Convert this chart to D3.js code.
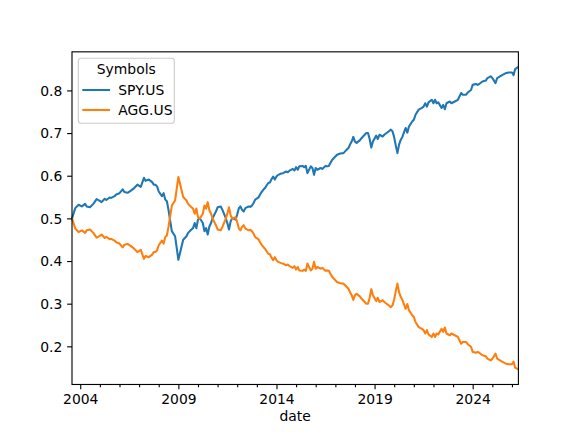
<!DOCTYPE html>
<html>
<head>
<meta charset="utf-8">
<script src="https://cdn.jsdelivr.net/npm/d3@7"></script>
<style>
  body { margin: 0; background: #fff; }
  svg text { font-family: "DejaVu Sans", sans-serif; }
</style>
</head>
<body>
<svg></svg>
<script>
var width = 576;
var height = 432;

// monthly weights
var dates = ["2003-08","2003-10","2003-12","2004-02","2004-04","2004-05","2004-07","2004-09","2004-11",
  "2005-01","2005-02","2005-04","2005-05","2005-07","2005-08","2005-10","2005-11",
  "2006-01","2006-03","2006-04","2006-06","2006-08","2006-10","2006-12",
  "2007-02","2007-04","2007-05","2007-07","2007-08","2007-09","2007-10","2007-11","2007-12",
  "2008-01","2008-03","2008-04","2008-05","2008-06","2008-07","2008-08","2008-09","2008-11","2008-12",
  "2009-01","2009-02","2009-03","2009-04","2009-06","2009-07","2009-09","2009-10","2009-11","2009-12",
  "2010-01","2010-02","2010-04","2010-05","2010-06","2010-07","2010-08","2010-09","2010-10","2010-12",
  "2011-01","2011-03","2011-04","2011-06","2011-07","2011-08","2011-09","2011-10","2011-12",
  "2012-01","2012-02","2012-03","2012-04","2012-05","2012-06","2012-08","2012-09","2012-10","2012-11","2012-12",
  "2013-02","2013-03","2013-04","2013-05","2013-06","2013-07","2013-08","2013-09","2013-10","2013-11","2013-12",
  "2014-01","2014-02","2014-04","2014-05","2014-07","2014-08","2014-09","2014-11","2014-12",
  "2015-01","2015-02","2015-03","2015-05","2015-06","2015-07","2015-08","2015-10","2015-11","2015-12",
  "2016-01","2016-02","2016-04","2016-05","2016-07","2016-08","2016-09","2016-10","2016-11",
  "2017-01","2017-02","2017-04","2017-06","2017-07","2017-09","2017-10","2017-11","2017-12",
  "2018-01","2018-02","2018-04","2018-05","2018-07","2018-08","2018-09","2018-10","2018-11","2018-12",
  "2019-02","2019-03","2019-04","2019-06","2019-07","2019-09","2019-11","2019-12",
  "2020-01","2020-02","2020-03","2020-04","2020-05","2020-06","2020-08","2020-09","2020-10","2020-12",
  "2021-01","2021-02","2021-04","2021-06","2021-07","2021-08","2021-09","2021-10","2021-12",
  "2022-01","2022-02","2022-03","2022-04","2022-06","2022-07","2022-08","2022-09","2022-11","2022-12",
  "2023-02","2023-04","2023-06","2023-07","2023-09","2023-10","2023-12",
  "2024-01","2024-03","2024-04","2024-05","2024-07","2024-09","2024-10","2024-12",
  "2025-01","2025-03","2025-04","2025-07","2025-09","2025-11",
  "2026-01","2026-02","2026-03","2026-05"];

var spy = [0.500,0.524,0.532,0.528,0.534,0.528,0.526,0.534,0.545,
  0.541,0.538,0.546,0.543,0.549,0.548,0.552,0.556,
  0.559,0.568,0.562,0.560,0.565,0.571,0.579,
  0.574,0.595,0.588,0.591,0.588,0.585,0.579,0.579,0.575,
  0.563,0.552,0.559,0.544,0.540,0.520,0.495,0.470,0.458,0.431,
  0.403,0.419,0.434,0.450,0.458,0.466,0.474,0.477,0.489,0.477,
  0.497,0.501,0.489,0.470,0.477,0.462,0.481,0.489,0.501,0.516,
  0.526,0.528,0.520,0.501,0.489,0.474,0.493,0.501,0.497,
  0.509,0.524,0.528,0.520,0.516,0.524,0.528,0.527,0.530,0.536,0.544,
  0.549,0.556,0.562,0.567,0.571,0.577,0.583,0.584,0.592,0.598,0.591,
  0.598,0.602,0.605,0.606,0.610,0.608,0.612,0.616,0.612,
  0.620,0.614,0.622,0.623,0.620,0.623,0.606,0.622,0.618,0.602,
  0.618,0.614,0.618,0.616,0.623,0.622,0.623,0.630,0.637,
  0.645,0.649,0.652,0.653,0.657,0.665,0.673,0.680,0.691,
  0.680,0.677,0.683,0.688,0.696,0.700,0.700,0.686,0.666,0.680,
  0.694,0.686,0.696,0.692,0.696,0.702,0.708,0.704,
  0.690,0.670,0.653,0.673,0.684,0.691,0.712,0.701,0.715,0.727,
  0.731,0.743,0.755,0.759,0.762,0.770,0.762,0.772,0.778,
  0.770,0.778,0.770,0.772,0.759,0.766,0.756,0.770,0.774,0.770,
  0.774,0.778,0.794,0.790,0.790,0.795,0.801,
  0.813,0.815,0.813,0.815,0.821,0.823,0.829,0.833,
  0.829,0.817,0.829,0.836,0.840,0.842,
  0.842,0.836,0.850,0.855];

var agg = [0.500,0.476,0.468,0.472,0.466,0.472,0.474,0.466,0.455,
  0.459,0.462,0.454,0.457,0.451,0.452,0.448,0.444,
  0.441,0.432,0.438,0.440,0.435,0.429,0.421,
  0.426,0.405,0.412,0.409,0.412,0.415,0.421,0.421,0.425,
  0.437,0.448,0.441,0.456,0.460,0.480,0.505,0.530,0.542,0.569,
  0.597,0.581,0.566,0.550,0.542,0.534,0.526,0.523,0.511,0.523,
  0.503,0.499,0.511,0.530,0.523,0.538,0.519,0.511,0.499,0.484,
  0.474,0.472,0.480,0.499,0.511,0.526,0.507,0.499,0.503,
  0.491,0.476,0.472,0.480,0.484,0.476,0.472,0.473,0.470,0.464,0.456,
  0.451,0.444,0.438,0.433,0.429,0.423,0.417,0.416,0.408,0.402,0.409,
  0.402,0.398,0.395,0.394,0.390,0.392,0.388,0.384,0.388,
  0.380,0.386,0.378,0.377,0.380,0.377,0.394,0.378,0.382,0.398,
  0.382,0.386,0.382,0.384,0.377,0.378,0.377,0.370,0.363,
  0.355,0.351,0.348,0.347,0.343,0.335,0.327,0.320,0.309,
  0.320,0.323,0.317,0.312,0.304,0.300,0.300,0.314,0.334,0.320,
  0.306,0.314,0.304,0.308,0.304,0.298,0.292,0.296,
  0.310,0.330,0.347,0.327,0.316,0.309,0.288,0.299,0.285,0.273,
  0.269,0.257,0.245,0.241,0.238,0.230,0.238,0.228,0.222,
  0.230,0.222,0.230,0.228,0.241,0.234,0.244,0.230,0.226,0.230,
  0.226,0.222,0.206,0.210,0.210,0.205,0.199,
  0.187,0.185,0.187,0.185,0.179,0.177,0.171,0.167,
  0.171,0.183,0.171,0.164,0.160,0.158,
  0.158,0.164,0.150,0.146];

var symbols = ["SPY.US", "AGG.US"];
var colors = ["#1f77b4", "#ff7f0e"];
var majorYears = [2004, 2009, 2014, 2019, 2024];

var parseMonth = d3.utcParse("%Y-%m");
var series = [spy, agg].map(function(vals, i){
  return { name: symbols[i], color: colors[i],
    values: vals.map(function(v, j){ return { date: parseMonth(dates[j]), value: v }; }) };
});

// axes box in pixels (matplotlib default subplot params)
var axL = 72, axR = 518.4, axT = 51.84, axB = 384.48;
var fs = 13.9;

var svg = d3.select("svg")
      .attr("width", width)
      .attr("height", height)

var x = d3.scaleUtc()
      .domain(d3.extent(dates, function(d){ return parseMonth(d); }))
      .range([axL, axR]);

var allVals = spy.concat(agg);
var lo = d3.min(allVals), hi = d3.max(allVals);
var pad = (hi - lo) * 0.05;
var y = d3.scaleLinear()
      .domain([lo - pad, hi + pad])
      .range([axB, axT]);

var line = d3.line()
      .x(function(d){ return x(d.date); })
      .y(function(d){ return y(d.value); });

svg.append("g")
  .selectAll("path")
  .data(series)
  .enter()
  .append("path")
  .attr("d", function(d){ return line(d.values); })
  .attr("fill", "none")
  .attr("stroke", function(d){ return d.color; })
  .attr("stroke-width", 2.08)
  .attr("stroke-linejoin", "round");

// x axis, major + yearly minor ticks
var xAxis = d3.axisBottom(x)
      .tickValues(majorYears.map(function(yr){ return new Date(Date.UTC(yr, 0, 1)); }))
      .tickFormat(d3.utcFormat("%Y"))
      .tickSize(4.86)
      .tickPadding(4.86)
      .tickSizeOuter(0);
var gx = svg.append("g")
      .attr("transform", "translate(0," + axB + ")")
      .call(xAxis);

var minorYears = d3.range(2004, 2027).filter(function(yr){ return majorYears.indexOf(yr) == -1; });
var gxm = svg.append("g")
      .attr("transform", "translate(0," + axB + ")")
      .call(d3.axisBottom(x)
        .tickValues(minorYears.map(function(yr){ return new Date(Date.UTC(yr, 0, 1)); }))
        .tickFormat("")
        .tickSize(2.78)
        .tickSizeOuter(0));

var yAxis = d3.axisLeft(y)
      .tickValues([0.2, 0.3, 0.4, 0.5, 0.6, 0.7, 0.8])
      .tickFormat(d3.format(".1f"))
      .tickSize(4.86)
      .tickPadding(4.86)
      .tickSizeOuter(0);
var gy = svg.append("g")
      .attr("transform", "translate(" + axL + ",0)")
      .call(yAxis);

[gx, gxm, gy].forEach(function(g){
  g.select(".domain").remove();
  g.selectAll("line").attr("stroke", "#000").attr("stroke-width", 1.11);
  g.selectAll("text").attr("fill", "#000").style("font-size", fs + "px").style("font-family", "DejaVu Sans");
});
gy.selectAll("text").attr("dy", "0.34em");

// frame
svg.append("rect")
  .attr("x", axL).attr("y", axT)
  .attr("width", axR - axL).attr("height", axB - axT)
  .attr("fill", "none")
  .attr("stroke", "#000")
  .attr("stroke-width", 1.11);

svg.append("text")
  .attr("x", (axL + axR) / 2)
  .attr("y", 421)
  .attr("text-anchor", "middle")
  .style("font-size", fs + "px")
  .text("date");

// legend
var legend = svg.append("g");
legend.append("rect")
  .attr("x", 78.3).attr("y", 58.3)
  .attr("width", 96).attr("height", 65)
  .attr("rx", 2.8)
  .attr("fill", "#fff").attr("fill-opacity", 0.8)
  .attr("stroke", "#cccccc").attr("stroke-width", 1.11);
legend.append("text")
  .attr("x", 126.3).attr("y", 74)
  .attr("text-anchor", "middle")
  .style("font-size", fs + "px")
  .text("Symbols");
var items = legend.selectAll(".item")
  .data(series)
  .enter()
  .append("g")
  .attr("class", "item")
  .attr("transform", function(d, i){ return "translate(0," + (90 + i * 20) + ")"; });
items.append("line")
  .attr("x1", 82.3).attr("x2", 110.1)
  .attr("stroke", function(d){ return d.color; })
  .attr("stroke-width", 2.08);
items.append("text")
  .attr("x", 118.3).attr("dy", "0.36em")
  .style("font-size", fs + "px")
  .text(function(d){ return d.name; });
</script>
</body>
</html>
